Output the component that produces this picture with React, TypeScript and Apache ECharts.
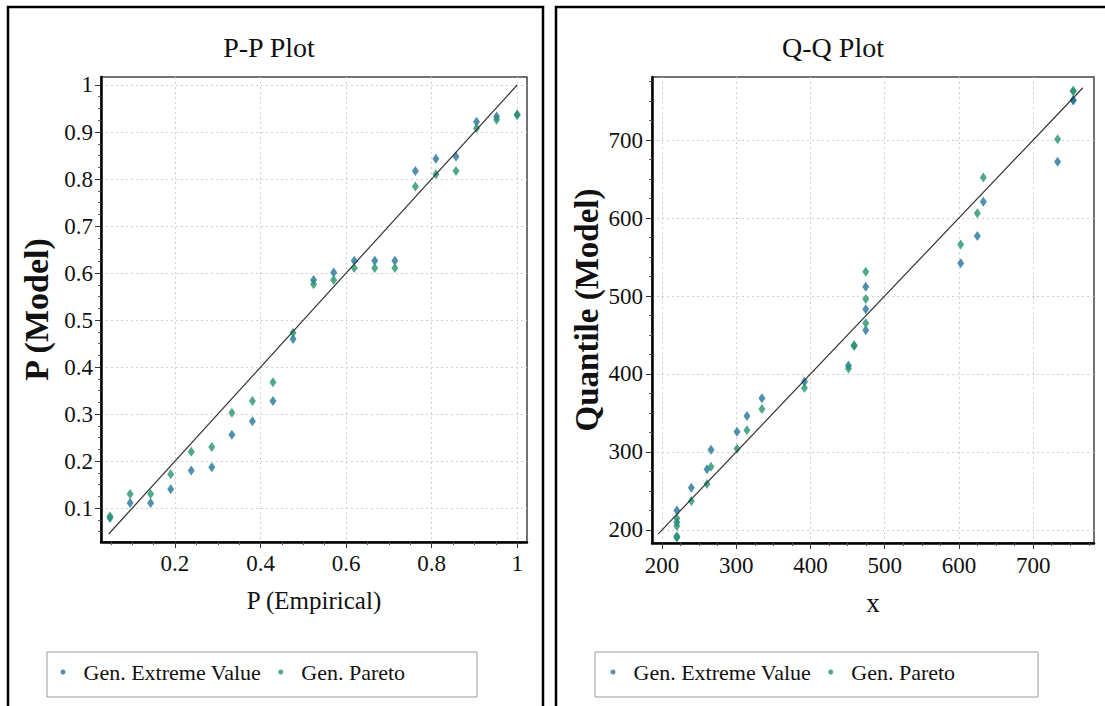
import React, { useEffect, useRef } from "react";
import * as echarts from "echarts";

const FONT = "Liberation Serif, Times New Roman, serif";
const SERIES_NAMES = ["Gen. Extreme Value", "Gen. Pareto"];
const COLOR_GEV = "#23739c";
const COLOR_GP = "#24946a";

// P-P plot data
const ppEmpirical = [0.048, 0.095, 0.143, 0.19, 0.238, 0.286, 0.333, 0.381, 0.429, 0.476, 0.524, 0.571, 0.619, 0.667, 0.714, 0.762, 0.81, 0.857, 0.905, 0.952, 1.0];
const ppGEV = [0.079, 0.111, 0.111, 0.14, 0.18, 0.187, 0.256, 0.285, 0.328, 0.46, 0.585, 0.601, 0.626, 0.626, 0.626, 0.817, 0.843, 0.848, 0.922, 0.933, 0.937];
const ppGP = [0.083, 0.13, 0.13, 0.172, 0.22, 0.23, 0.303, 0.328, 0.368, 0.473, 0.576, 0.585, 0.611, 0.611, 0.611, 0.784, 0.81, 0.817, 0.908, 0.926, 0.936];
const ppLine = [0.045, 1.0];

// Q-Q plot data
const qqX = [220, 220, 220, 239.5, 260.6, 266, 301, 314.4, 334.6, 391.9, 451.2, 458.8, 474.5, 474.5, 474.5, 602.4, 624.8, 632.9, 733, 754, 754];
const qqGEV = [192, 210, 225, 254, 278, 303, 326, 346, 369, 390, 411, 437, 456, 483, 512, 542, 577, 621, 672, 751, 751];
const qqGP = [190, 205, 215, 237, 259, 281, 304, 328, 355, 382, 407, 436, 465, 496, 531, 566, 606, 652, 701, 763, 763];
const qqLine = [195, 767];

// axis ticks
const ppXMajor = [0.2, 0.4, 0.6, 0.8, 1];
const ppYMajor = [0.1, 0.2, 0.3, 0.4, 0.5, 0.6, 0.7, 0.8, 0.9, 1];
const qqXMajor = [200, 300, 400, 500, 600, 700];
const qqYMajor = [200, 300, 400, 500, 600, 700];

function minorTicks(from: number, to: number, step: number, major: number[]) {
  const out: number[] = [];
  const n = Math.round((to - from) / step);
  for (let i = 0; i <= n; i++) {
    const v = +(from + i * step).toFixed(4);
    if (!major.some((m) => Math.abs(m - v) < 1e-6)) out.push(v);
  }
  return out;
}

const ppXMinor = minorTicks(0.05, 1.0, 0.05, ppXMajor);
const ppYMinor = minorTicks(0.05, 1.0, 0.025, ppYMajor);
const qqXMinor = minorTicks(200, 775, 25, qqXMajor);
const qqYMinor = minorTicks(200, 775, 25, qqYMajor);

const gridLine = { show: true, lineStyle: { color: "#cfcfcf", type: [2, 3] as any, width: 1 } };
const LABEL_SIZE = 23;

function majorAxis(grid: number, min: number, max: number, ticks: number[], pos: string, extra: any) {
  return {
    type: "value",
    gridIndex: grid,
    min,
    max,
    position: pos,
    axisLine: { show: true, onZero: false, lineStyle: { color: "#000", width: 2.5 } },
    axisTick: { show: true, length: 6, customValues: ticks, lineStyle: { color: "#333", width: 1 } },
    axisLabel: { customValues: ticks, fontFamily: FONT, fontSize: LABEL_SIZE, color: "#111" },
    splitLine: gridLine,
    ...extra,
  };
}

function minorAxis(grid: number, min: number, max: number, ticks: number[], pos: string) {
  return {
    type: "value",
    gridIndex: grid,
    min,
    max,
    position: pos,
    offset: 0,
    axisLine: { show: false, onZero: false },
    axisTick: { show: true, length: 3, customValues: ticks, lineStyle: { color: "#555", width: 1 } },
    axisLabel: { show: false },
    splitLine: { show: false },
  };
}

const PP_X = [0.027, 1.023];
const PP_Y = [0.028, 1.017];
const QQ_X = [186.5, 782];
const QQ_Y = [183.3, 780.8];

function scatter(name: string, color: string, xs: number[], ys: number[], xi: number, yi: number) {
  return {
    type: "scatter",
    name,
    xAxisIndex: xi,
    yAxisIndex: yi,
    symbol: "diamond",
    symbolSize: [7, 10],
    itemStyle: { color },
    data: xs.map((x, i) => [x, ys[i]]),
  };
}

function lineSeries(vals: number[], xi: number, yi: number) {
  return {
    type: "line",
    xAxisIndex: xi,
    yAxisIndex: yi,
    symbol: "none",
    silent: true,
    lineStyle: { color: "#333", width: 1.2 },
    data: vals.map((v) => [v, v]),
  };
}

function legendAt(left: number) {
  return {
    data: SERIES_NAMES,
    left,
    top: 661,
    icon: "circle",
    itemWidth: 5,
    itemHeight: 5,
    itemGap: 17,
    padding: 0,
    textStyle: { fontFamily: FONT, fontSize: 22, color: "#111", padding: [0, 0, 0, 13] },
  };
}

export default function App() {
  const ref = useRef<HTMLDivElement>(null);
  useEffect(() => {
    if (!ref.current) return;
    const chart = echarts.init(ref.current, null, { renderer: "svg" });
    const option: any = {
      animation: false,
      backgroundColor: "#ffffff",
      textStyle: { fontFamily: FONT },
      title: [
        { text: "P-P Plot", left: 269, top: 33, textAlign: "center", padding: 0, textStyle: { fontFamily: FONT, fontSize: 28, fontWeight: "normal", color: "#111" } },
        { text: "Q-Q Plot", left: 833, top: 33, textAlign: "center", padding: 0, textStyle: { fontFamily: FONT, fontSize: 28, fontWeight: "normal", color: "#111" } },
      ],
      legend: [legendAt(60.5), legendAt(610.5)],
      grid: [
        { left: 101, top: 77, width: 426, height: 465, show: true, borderColor: "#444", borderWidth: 1.5, backgroundColor: "#fff" },
        { left: 652, top: 77, width: 442, height: 466, show: true, borderColor: "#444", borderWidth: 1.5, backgroundColor: "#fff" },
      ],
      xAxis: [
        majorAxis(0, PP_X[0], PP_X[1], ppXMajor, "bottom", {
          name: "P (Empirical)", nameLocation: "middle", nameGap: 46,
          nameTextStyle: { fontFamily: FONT, fontSize: 25, color: "#111" },
          axisLabel: { customValues: ppXMajor, fontFamily: FONT, fontSize: LABEL_SIZE, color: "#111", margin: 10 },
        }),
        minorAxis(0, PP_X[0], PP_X[1], ppXMinor, "bottom"),
        majorAxis(1, QQ_X[0], QQ_X[1], qqXMajor, "bottom", {
          name: "x", nameLocation: "middle", nameGap: 46,
          nameTextStyle: { fontFamily: FONT, fontSize: 27, color: "#111" },
          axisLabel: { customValues: qqXMajor, fontFamily: FONT, fontSize: LABEL_SIZE, color: "#111", margin: 11 },
        }),
        minorAxis(1, QQ_X[0], QQ_X[1], qqXMinor, "bottom"),
      ],
      yAxis: [
        majorAxis(0, PP_Y[0], PP_Y[1], ppYMajor, "left", {
          name: "P (Model)", nameLocation: "middle", nameGap: 48, nameRotate: 90,
          nameTextStyle: { fontFamily: FONT, fontSize: 34, fontWeight: "bold", color: "#111" },
          axisLabel: { customValues: ppYMajor, fontFamily: FONT, fontSize: LABEL_SIZE, color: "#111", margin: 8 },
        }),
        minorAxis(0, PP_Y[0], PP_Y[1], ppYMinor, "left"),
        majorAxis(1, QQ_Y[0], QQ_Y[1], qqYMajor, "left", {
          name: "Quantile (Model)", nameLocation: "middle", nameGap: 49, nameRotate: 90,
          nameTextStyle: { fontFamily: FONT, fontSize: 33, fontWeight: "bold", color: "#111" },
          axisLabel: { customValues: qqYMajor, fontFamily: FONT, fontSize: LABEL_SIZE, color: "#111", margin: 9 },
        }),
        minorAxis(1, QQ_Y[0], QQ_Y[1], qqYMinor, "left"),
      ],
      graphic: [
        { type: "rect", shape: { x: 8, y: 7, width: 535, height: 720 }, style: { fill: "none", stroke: "#000", lineWidth: 2.5 }, silent: true, z: -1 },
        { type: "rect", shape: { x: 556, y: 7, width: 560, height: 720 }, style: { fill: "none", stroke: "#000", lineWidth: 2.5 }, silent: true, z: -1 },
        { type: "rect", shape: { x: 47, y: 652, width: 430, height: 45 }, style: { fill: "none", stroke: "#9a9a9a", lineWidth: 1 }, silent: true },
        { type: "rect", shape: { x: 595, y: 652, width: 443, height: 45 }, style: { fill: "none", stroke: "#9a9a9a", lineWidth: 1 }, silent: true },
      ],
      series: [
        lineSeries(ppLine, 0, 0),
        scatter(SERIES_NAMES[0], COLOR_GEV, ppEmpirical, ppGEV, 0, 0),
        scatter(SERIES_NAMES[1], COLOR_GP, ppEmpirical, ppGP, 0, 0),
        lineSeries(qqLine, 2, 2),
        scatter(SERIES_NAMES[0], COLOR_GEV, qqX, qqGEV, 2, 2),
        scatter(SERIES_NAMES[1], COLOR_GP, qqX, qqGP, 2, 2),
      ],
    };
    chart.setOption(option);
    return () => chart.dispose();
  }, []);
  return (
    <div
      ref={ref}
      style={{ position: "fixed", left: 0, top: 0, width: 1105, height: 706, background: "#fff" }}
    />
  );
}
